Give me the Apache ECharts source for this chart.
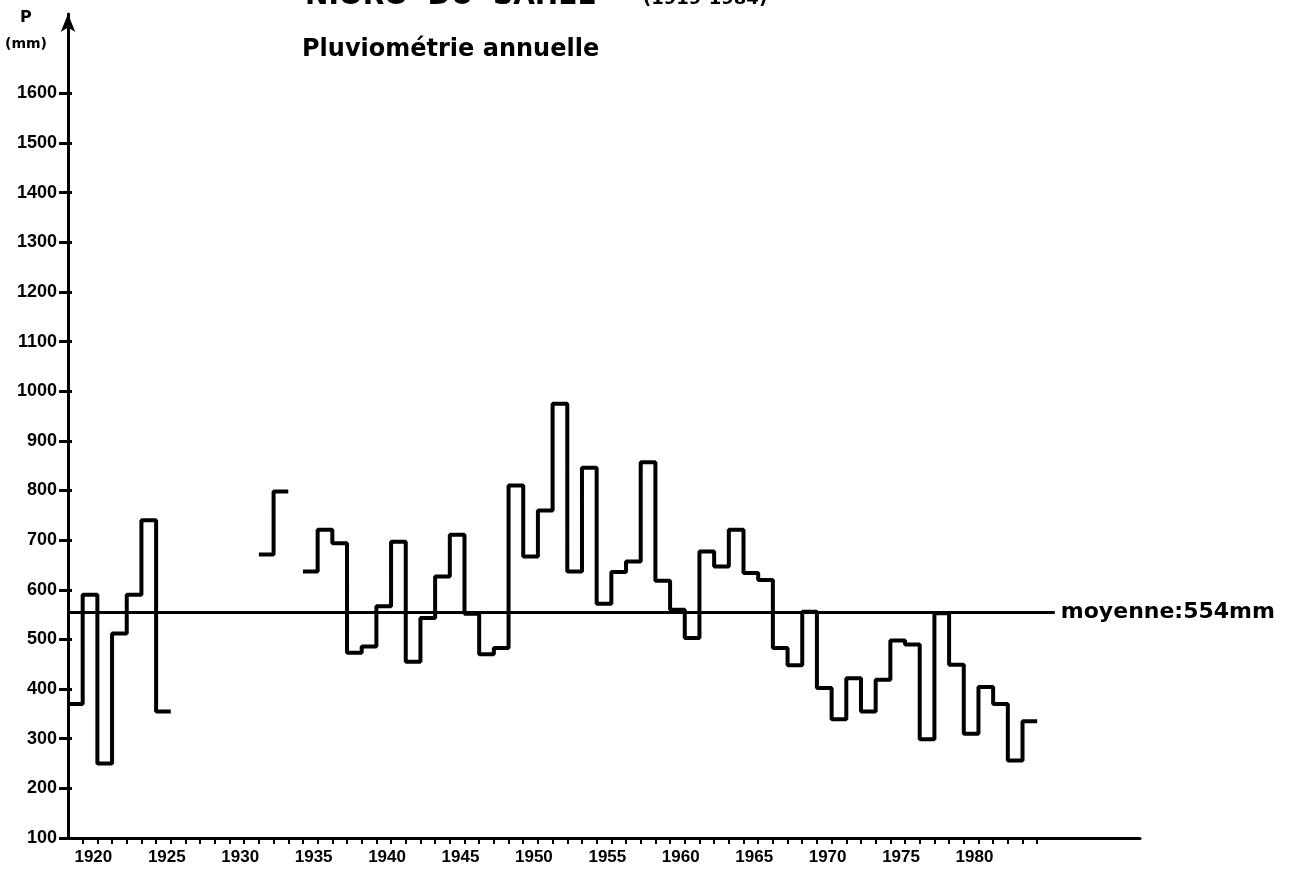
<!DOCTYPE html>
<html>
<head>
<meta charset="utf-8">
<script src="https://cdn.jsdelivr.net/npm/echarts@6/dist/echarts.min.js"></script>
<style>
html,body{margin:0;padding:0;background:#ffffff;}
#chart{width:1303px;height:877px;}
</style>
</head>
<body>
<div id="chart"></div>
<script>
// ---- data ----
const years = [1919,1920,1921,1922,1923,1924,1925,1926,1927,1928,1929,1930,1931,1932,1933,1934,
  1935,1936,1937,1938,1939,1940,1941,1942,1943,1944,1945,1946,1947,1948,1949,1950,
  1951,1952,1953,1954,1955,1956,1957,1958,1959,1960,1961,1962,1963,1964,1965,1966,
  1967,1968,1969,1970,1971,1972,1973,1974,1975,1976,1977,1978,1979,1980,1981,1982,1983,1984];
const rainfall = [370,590,250,512,590,740,355,null,null,null,null,null,null,671,798,null,
  637,721,694,473,486,567,697,455,543,627,711,552,470,483,810,667,
  760,975,637,846,572,636,657,857,618,560,503,677,647,721,634,620,
  483,448,556,402,339,422,355,419,498,490,299,553,449,310,404,370,256,335];
const meanRainfall = 554;
const xLabelYears = [1920,1925,1930,1935,1940,1945,1950,1955,1960,1965,1970,1975,1980];
const yTickValues = [100,200,300,400,500,600,700,800,900,1000,1100,1200,1300,1400,1500,1600];

// ---- build step outline: each year is a flat segment from (year-1) to year ----
const stepData = [];
years.forEach((yr, i) => {
  const v = rainfall[i];
  if (v === null) {
    stepData.push([yr - 0.5, '-']);
  } else {
    stepData.push([yr - 1, v]);
    stepData.push([yr, v]);
  }
});

const chart = echarts.init(document.getElementById('chart'), null, {renderer: 'canvas'});
const numFont = 'Liberation Sans';
const option = {
  backgroundColor: '#ffffff',
  animation: false,
  grid: {left: 68, right: 163, top: 14, bottom: 39, containLabel: false},
  xAxis: {
    type: 'value', min: 1918, max: 1991,
    axisLine: {show: true, onZero: false, lineStyle: {color: '#000', width: 3}},
    axisTick: {show: true, customValues: years, length: 6, lineStyle: {color: '#000', width: 2}},
    axisLabel: {customValues: xLabelYears, formatter: v => String(v), color: '#000',
      fontFamily: numFont, fontWeight: 'bold', fontSize: 17, margin: 11, padding: [0, 8, 0, 0]},
    splitLine: {show: false}
  },
  yAxis: [{
    type: 'value', min: 100, max: 1760,
    axisLine: {show: true, onZero: false, symbol: ['none', 'arrow'], symbolSize: [11, 18],
      lineStyle: {color: '#000', width: 3}},
    axisTick: {show: true, customValues: yTickValues, length: 9, lineStyle: {color: '#000', width: 3}},
    axisLabel: {customValues: yTickValues, formatter: v => String(v), color: '#000',
      fontFamily: numFont, fontWeight: 'bold', fontSize: 18, margin: 11},
    splitLine: {show: false}
  }, {
    type: 'value', min: 100, max: 1760, position: 'left', offset: 0,
    axisLine: {show: false},
    axisTick: {show: true, inside: true, customValues: yTickValues, length: 4, lineStyle: {color: '#000', width: 3}},
    axisLabel: {show: false},
    splitLine: {show: false}
  }],
  series: [{
    type: 'line',
    data: stepData,
    symbol: 'none',
    connectNulls: false,
    lineStyle: {color: '#000', width: 4},
    markLine: {
      silent: true,
      symbol: ['none', 'none'],
      lineStyle: {color: '#000', width: 3, type: 'solid'},
      label: {show: true, position: 'end', distance: 6, formatter: 'moyenne:' + meanRainfall + 'mm',
        color: '#000', fontFamily: 'DejaVu Sans', fontWeight: 'bold', fontSize: 22},
      data: [[{coord: [1918, meanRainfall]}, {coord: [1985.2, meanRainfall]}]]
    }
  }],
  graphic: [
    {type: 'text', left: 305, top: -17, style: {text: 'NIORO  DU  SAHEL', fill: '#000',
      font: 'bold 28px "DejaVu Sans"'}},
    {type: 'text', left: 643, top: -10, style: {text: '(1919-1984)', fill: '#000',
      font: 'bold 18px "DejaVu Sans"'}},
    {type: 'text', left: 302, top: 38, style: {text: 'Pluviométrie annuelle', fill: '#000',
      font: 'bold 24px "DejaVu Sans"'}},
    {type: 'text', left: 20, top: 10, style: {text: 'P', fill: '#000',
      font: 'bold 16px "DejaVu Sans"'}},
    {type: 'text', left: 5, top: 37, style: {text: '(mm)', fill: '#000',
      font: 'bold 14px "DejaVu Sans"'}}
  ]
};
chart.setOption(option);
</script>
</body>
</html>
